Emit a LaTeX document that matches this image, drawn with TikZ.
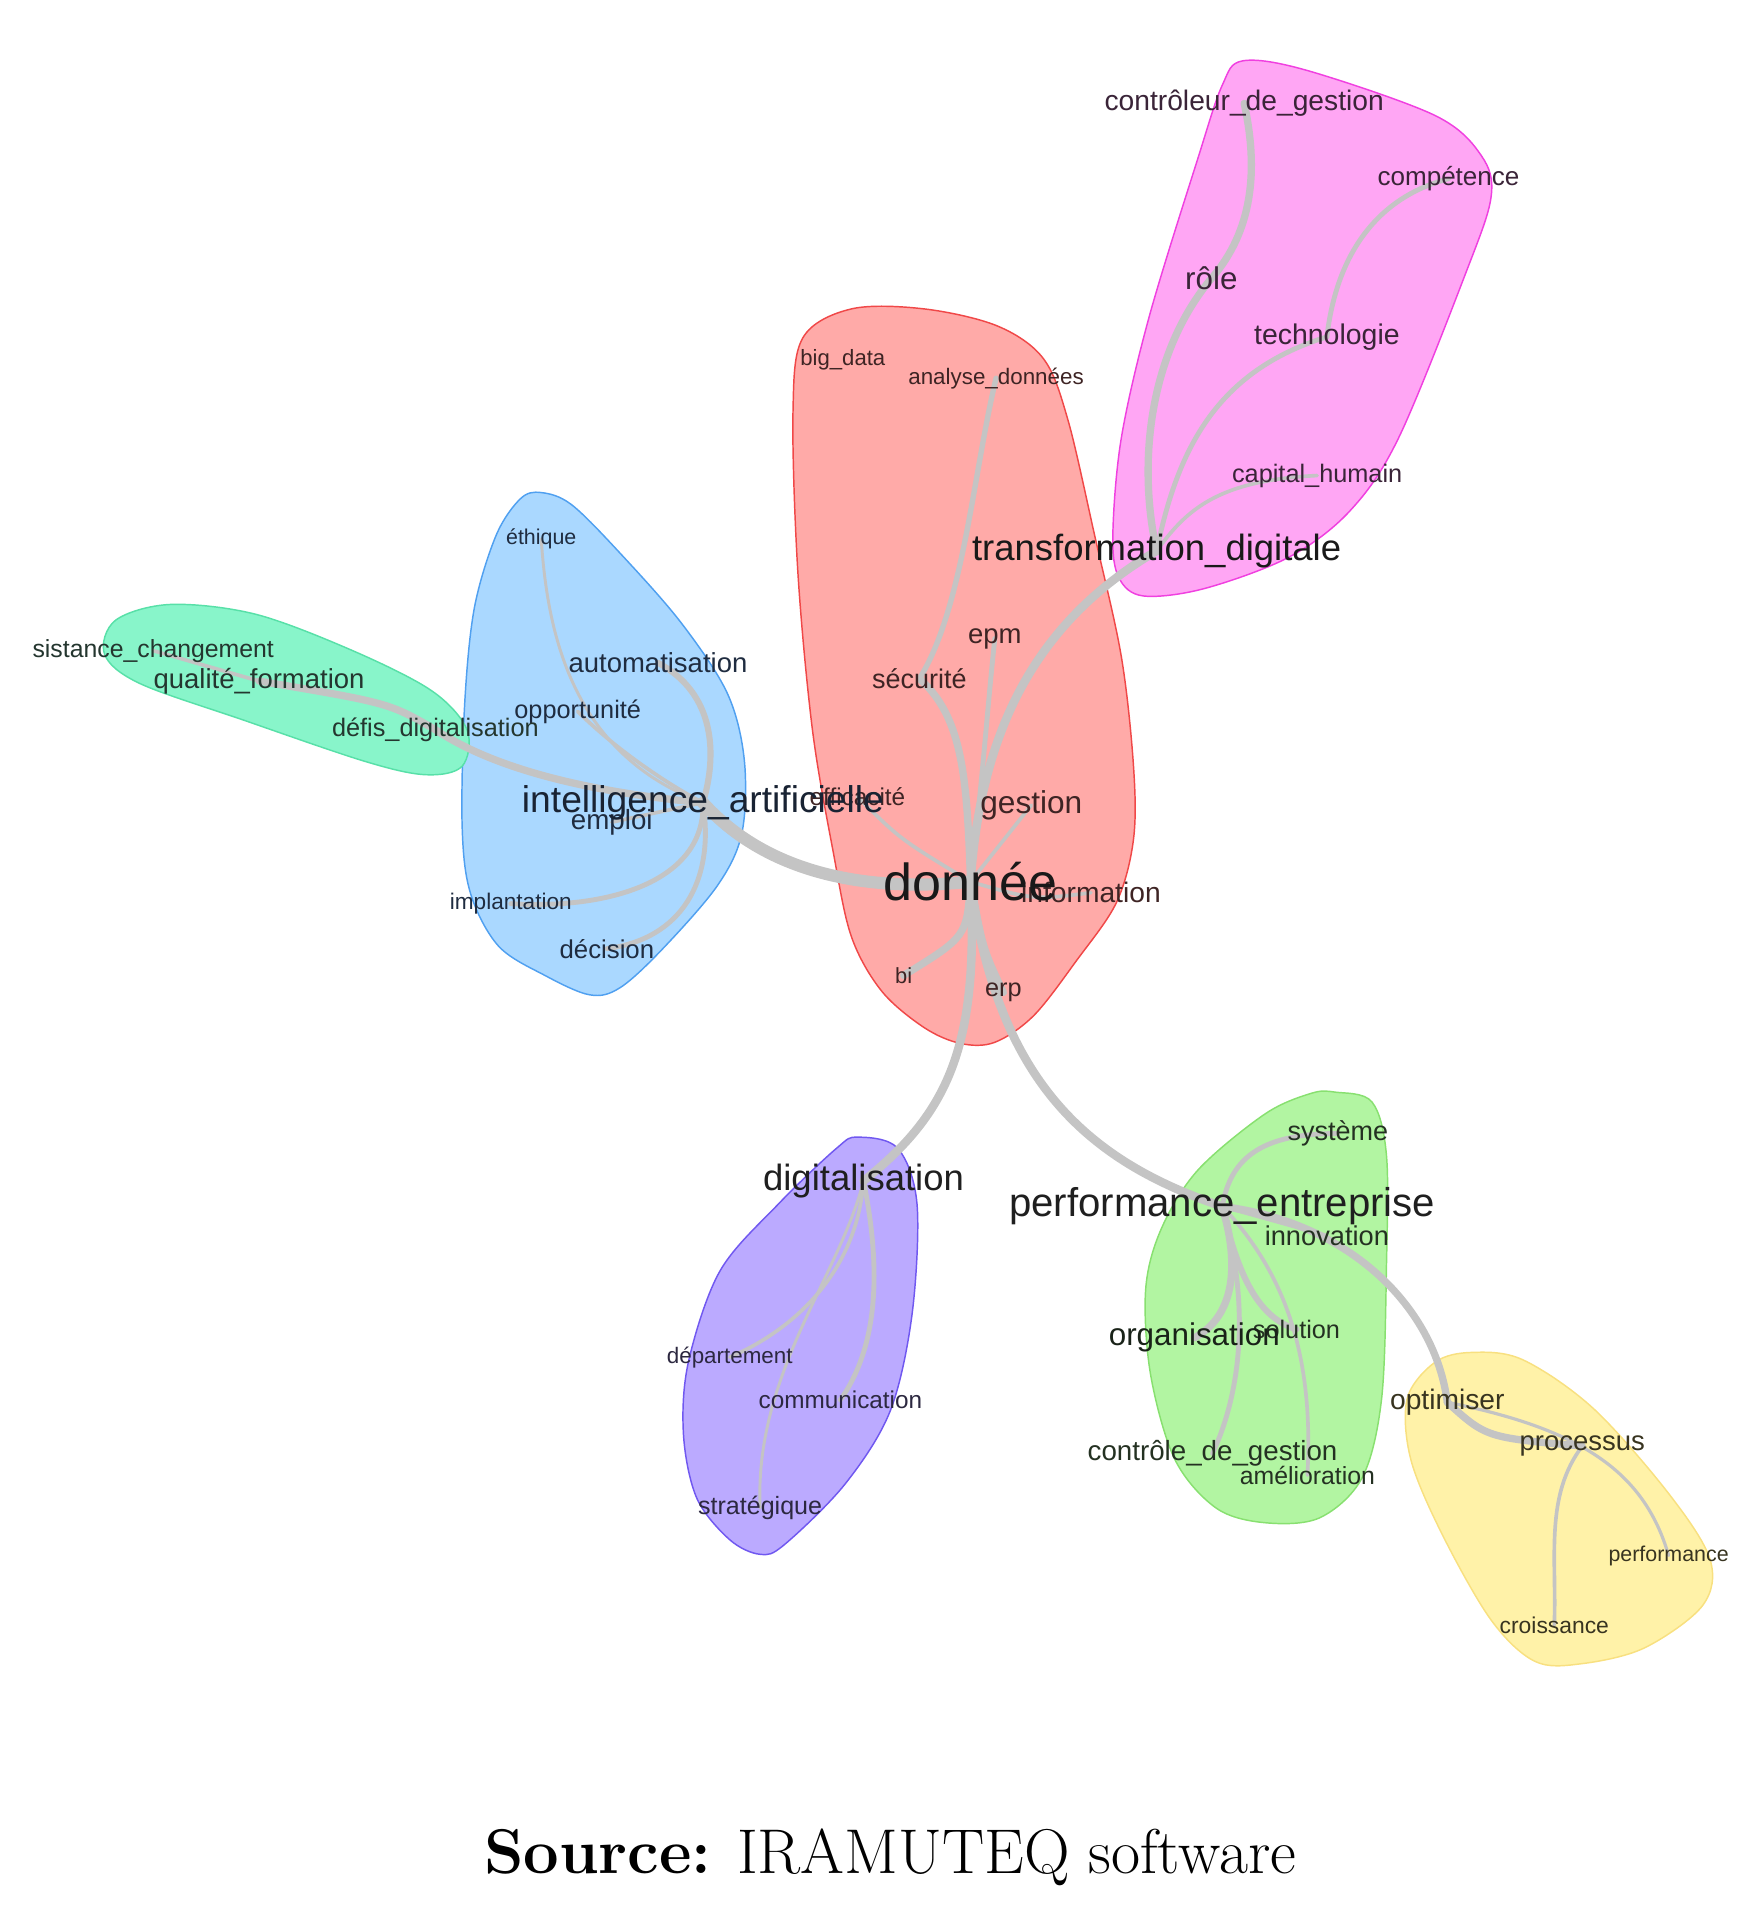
\documentclass[tikz,border=0pt]{standalone}
\usepackage{fontspec}
\newfontfamily\lblfont{Liberation Sans}
\newcommand\fsz[1]{\fontsize{#1}{#1}\selectfont}
\pgfdeclarelayer{hulls}
\pgfdeclarelayer{edges}
\pgfsetlayers{hulls,edges,main}
\definecolor{edgegray}{HTML}{C4C4C4}
\definecolor{pinkfill}{HTML}{FFA6F4}\definecolor{pinkline}{HTML}{F040E0}
\definecolor{redfill}{HTML}{FFAAA8}\definecolor{redline}{HTML}{F04848}
\definecolor{bluefill}{HTML}{AAD8FF}\definecolor{blueline}{HTML}{50A0F0}
\definecolor{tealfill}{HTML}{88F5CA}\definecolor{tealline}{HTML}{58E0A8}
\definecolor{purpfill}{HTML}{BBAAFF}\definecolor{purpline}{HTML}{7058F0}
\definecolor{greenfill}{HTML}{B2F5A2}\definecolor{greenline}{HTML}{88E070}
\definecolor{yellfill}{HTML}{FFF2A8}\definecolor{yellline}{HTML}{F8E080}
\definecolor{tred}{HTML}{3E2424}
\definecolor{tpink}{HTML}{3A2438}
\definecolor{tblue}{HTML}{1F2C40}
\definecolor{tteal}{HTML}{24362F}
\definecolor{tpurp}{HTML}{2C2840}
\definecolor{tgreen}{HTML}{243122}
\definecolor{tyell}{HTML}{383420}
\begin{document}
\begin{tikzpicture}[x=0.5pt,y=-0.5pt,
  lbl/.style={inner sep=0pt, font=\lblfont\fsz{#1}},
  edge/.style={draw=edgegray, line cap=round},
  hullline/.style={line width=0.6pt}]
\useasboundingbox (0,0) rectangle (1446,1568);

% ---------------- labels ----------------
% pink cluster
\node[lbl=11.6, text=tpink] (controleur) at (1023,85) {contrôleur\_de\_gestion};
\node[lbl=10.7, text=tpink] (competence) at (1191,147) {compétence};
\node[lbl=12.9, text=tpink] (role) at (996,229) {rôle};
\node[lbl=11.7, text=tpink] (techno) at (1091,277) {technologie};
\node[lbl=10.4, text=tpink] (capital) at (1083,391) {capital\_humain};
\node[lbl=15, text=black!90] (td) at (951,453) {transformation\_digitale};
% red cluster
\node[lbl=9.1, text=tred] (bigdata) at (693,296) {big\_data};
\node[lbl=9.2, text=tred] (analyse) at (819,311) {analyse\_données};
\node[lbl=11.3, text=tred] (epm) at (818,525) {epm};
\node[lbl=11.1, text=tred] (securite) at (756,558) {sécurité};
\node[lbl=10, text=tred] (efficacite) at (705,655) {efficacité};
\node[lbl=13, text=tred] (gestion) at (848,662) {gestion};
\node[lbl=11.6, text=tred] (information) at (897,734) {information};
\node[lbl=21.4, text=black!90] (donnee) at (798,725) {donnée};
\node[lbl=9, text=tred] (bi) at (743,802) {bi};
\node[lbl=10.4, text=tred] (erp) at (825,816) {erp};
% blue cluster
\node[lbl=8.8, text=tblue] (ethique) at (445,443) {éthique};
\node[lbl=11.3, text=tblue] (automat) at (541,545) {automatisation};
\node[lbl=10.4, text=tblue] (opport) at (475,585) {opportunité};
\node[lbl=11.4, text=tblue] (emploi) at (503,676) {emploi};
\node[lbl=15.3, text=tblue!80!black] (ia) at (578,660) {intelligence\_artificielle};
\node[lbl=9.3, text=tblue] (implant) at (420,743) {implantation};
\node[lbl=10.6, text=tblue] (decision) at (499,780) {décision};
% teal cluster
\node[lbl=10.2, text=tteal] (resist) at (126,535) {sistance\_changement};
\node[lbl=11.3, text=tteal] (qualite) at (213,560) {qualité\_formation};
\node[lbl=10.4, text=tteal] (defis) at (358,600) {défis\_digitalisation};
% purple cluster
\node[lbl=15, text=black!88] (digit) at (710,971) {digitalisation};
\node[lbl=9.2, text=tpurp] (depart) at (600,1116) {département};
\node[lbl=10, text=tpurp] (comm) at (691,1151) {communication};
\node[lbl=10.3, text=tpurp] (strat) at (625,1240) {stratégique};
% green cluster
\node[lbl=11.1, text=tgreen] (systeme) at (1100,932) {système};
\node[lbl=11.2, text=tgreen] (innov) at (1091,1016) {innovation};
\node[lbl=16.5, text=black!88] (pe) at (1005,992) {performance\_entreprise};
\node[lbl=10.4, text=tgreen] (solution) at (1066,1093) {solution};
\node[lbl=12.9, text=tgreen!70!black] (org) at (982,1100) {organisation};
\node[lbl=11.4, text=tgreen] (controle) at (997,1195) {contrôle\_de\_gestion};
\node[lbl=10.2, text=tgreen] (amelio) at (1075,1213) {amélioration};
% yellow cluster
\node[lbl=11.6, text=tyell] (optim) at (1190,1153) {optimiser};
\node[lbl=11.3, text=tyell] (processus) at (1301,1189) {processus};
\node[lbl=8.8, text=tyell] (perf) at (1372,1279) {performance};
\node[lbl=9.4, text=tyell] (croiss) at (1278,1336) {croissance};
% caption
\node[inner sep=0pt, font=\fsz{26}] (src) at (732,1527) {\textbf{Source:} IRAMUTEQ software};

% ---------------- hulls ----------------
\begin{pgfonlayer}{hulls}
\filldraw[fill=pinkfill, draw=pinkline, hullline] plot[smooth cycle, tension=0.55] coordinates {
 (1022,50) (1075,58) (1180,95) (1218,128) (1226,162) (1205,225) (1150,360) (1110,420)
 (1060,458) (990,484) (940,490) (920,475) (915,440) (922,360) (945,260) (985,130) (1005,70)};
\filldraw[fill=redfill, draw=redline, hullline] plot[smooth cycle, tension=0.55] coordinates {
 (700,254) (760,254) (820,268) (858,295) (878,345) (900,440) (922,540) (932,630) (932,690)
 (918,742) (885,790) (850,835) (818,857) (790,858) (760,845) (725,815) (700,770) (685,700)
 (668,600) (656,470) (652,340) (660,278)};
\filldraw[fill=bluefill, draw=blueline, hullline] plot[smooth cycle, tension=0.55] coordinates {
 (445,405) (470,415) (510,455) (560,512) (598,570) (612,625) (610,685) (590,728) (545,780)
 (510,812) (485,818) (448,802) (410,778) (387,735) (380,680) (382,580) (390,500) (408,440) (428,410)};
\filldraw[fill=tealfill, draw=tealline, hullline] plot[smooth cycle, tension=0.55] coordinates {
 (95,510) (140,497) (210,505) (290,535) (355,568) (384,600) (380,630) (350,637) (300,626)
 (200,592) (115,562) (86,538)};
\filldraw[fill=purpfill, draw=purpline, hullline] plot[smooth cycle, tension=0.55] coordinates {
 (705,935) (738,944) (754,990) (750,1080) (732,1160) (695,1220) (645,1270) (625,1278)
 (600,1266) (573,1232) (562,1180) (566,1120) (592,1045) (640,990) (688,944)};
\filldraw[fill=greenfill, draw=greenline, hullline] plot[smooth cycle, tension=0.55] coordinates {
 (1098,898) (1128,906) (1140,950) (1140,1040) (1136,1150) (1120,1215) (1085,1248) (1040,1252)
 (1000,1240) (966,1200) (946,1130) (942,1060) (955,1010) (985,962) (1040,916) (1078,899)};
\filldraw[fill=yellfill, draw=yellline, hullline] plot[smooth cycle, tension=0.55] coordinates {
 (1210,1112) (1252,1118) (1310,1158) (1372,1228) (1406,1282) (1400,1320) (1352,1355)
 (1300,1368) (1262,1366) (1226,1332) (1186,1262) (1160,1200) (1157,1150) (1180,1120)};
\end{pgfonlayer}

% ---------------- edges ----------------
\begin{pgfonlayer}{edges}
% central
\draw[edge, line width=5pt] (ia.center) .. controls (625,712) and (700,735) .. (donnee.center);
\draw[edge, line width=3.5pt] (donnee.center) .. controls (806,610) and (845,515) .. (td.center);
\draw[edge, line width=3pt] (donnee.center) .. controls (795,640) and (792,590) .. (securite.center);
\draw[edge, line width=2.2pt] (securite.center) .. controls (792,500) and (800,390) .. (analyse.center);
\draw[edge, line width=2pt] (donnee.center) .. controls (808,640) and (812,580) .. (epm.center);
\draw[edge, line width=1.5pt] (donnee.center) -- (gestion.center);
\draw[edge, line width=1.5pt] (donnee.center) .. controls (850,740) .. (information.center);
\draw[edge, line width=1.5pt] (donnee.center) .. controls (740,690) .. (efficacite.center);
\draw[edge, line width=3pt] (donnee.center) .. controls (795,770) .. (bi.center);
\draw[edge, line width=3pt] (donnee.center) .. controls (808,780) .. (erp.center);
\draw[edge, line width=3.5pt] (donnee.center) .. controls (805,860) and (780,915) .. (digit.center);
\draw[edge, line width=3.5pt] (donnee.center) .. controls (820,890) and (895,955) .. (pe.center);
% pink
\draw[edge, line width=3pt] (td.center) .. controls (935,380) and (945,290) .. (role.center);
\draw[edge, line width=3pt] (role.center) .. controls (1030,190) and (1035,140) .. (controleur.center);
\draw[edge, line width=2pt] (td.center) .. controls (968,370) and (1000,305) .. (techno.center);
\draw[edge, line width=2pt] (techno.center) .. controls (1100,200) and (1140,160) .. (competence.center);
\draw[edge, line width=1.5pt] (td.center) .. controls (975,420) and (1000,395) .. (capital.center);
% blue
\draw[edge, line width=2.5pt] (ia.center) .. controls (590,620) and (588,570) .. (automat.center);
\draw[edge, line width=1.2pt] (ia.center) .. controls (470,620) and (450,520) .. (ethique.center);
\draw[edge, line width=1.5pt] (ia.center) .. controls (540,640) and (500,610) .. (opport.center);
\draw[edge, line width=1.5pt] (ia.center) -- (emploi.center);
\draw[edge, line width=2pt] (ia.center) .. controls (580,725) and (500,748) .. (implant.center);
\draw[edge, line width=2pt] (ia.center) .. controls (588,725) and (560,772) .. (decision.center);
\draw[edge, line width=3pt] (ia.center) .. controls (470,650) and (400,628) .. (defis.center);
\draw[edge, line width=3pt] (defis.center) .. controls (320,578) .. (qualite.center);
\draw[edge, line width=1.5pt] (qualite.center) -- (resist.center);
% purple
\draw[edge, line width=1.5pt] (digit.center) .. controls (705,1040) and (660,1090) .. (depart.center);
\draw[edge, line width=2pt] (digit.center) .. controls (726,1050) and (720,1110) .. (comm.center);
\draw[edge, line width=1.2pt] (digit.center) .. controls (690,1050) and (620,1130) .. (strat.center);
% green
\draw[edge, line width=2pt] (pe.center) .. controls (1012,950) and (1040,932) .. (systeme.center);
\draw[edge, line width=1.5pt] (pe.center) -- (innov.center);
\draw[edge, line width=3pt] (pe.center) .. controls (1022,1050) and (1010,1085) .. (org.center);
\draw[edge, line width=2.5pt] (pe.center) .. controls (1020,1060) and (1040,1085) .. (solution.center);
\draw[edge, line width=2pt] (pe.center) .. controls (1030,1080) and (1018,1150) .. (controle.center);
\draw[edge, line width=1.5pt] (pe.center) .. controls (1060,1050) and (1080,1120) .. (amelio.center);
\draw[edge, line width=3pt] (pe.center) .. controls (1110,1005) and (1180,1075) .. (optim.center);
% yellow
\draw[edge, line width=3pt] (optim.center) .. controls (1222,1182) .. (processus.center);
\draw[edge, line width=1.5pt] (processus.center) .. controls (1270,1230) and (1280,1280) .. (croiss.center);
\draw[edge, line width=1.3pt] (optim.center) .. controls (1300,1175) and (1352,1210) .. (perf.center);
\end{pgfonlayer}
\end{tikzpicture}
\end{document}
